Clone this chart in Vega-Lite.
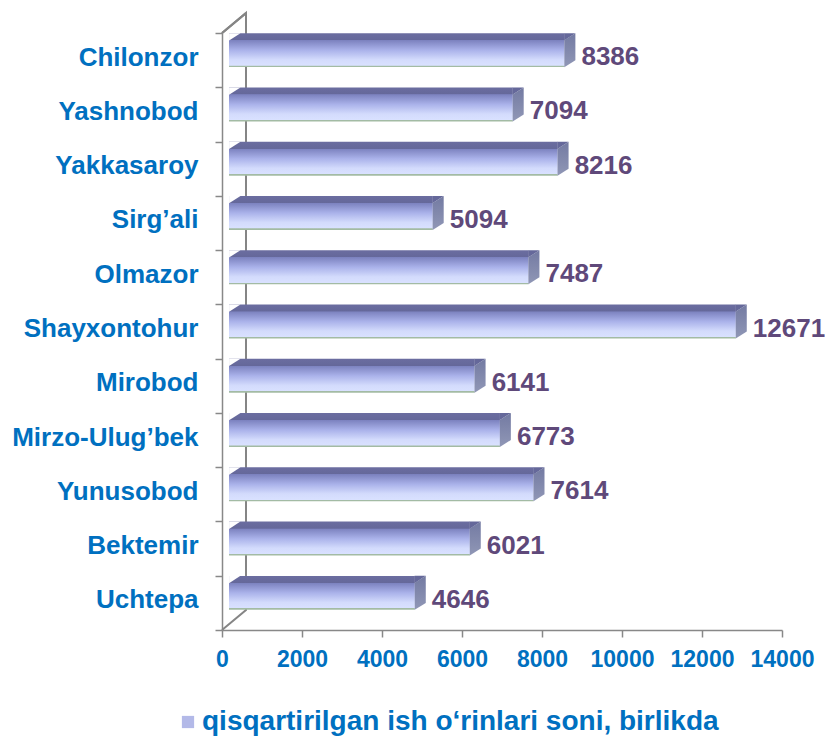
{
  "$schema": "https://vega.github.io/schema/vega-lite/v6.json",
  "autosize": "none",
  "width": 560,
  "height": 597,
  "padding": {"left": 222, "top": 33, "right": 43, "bottom": 108},
  "background": "white",
  "config": {
    "view": {"stroke": null},
    "font": "Liberation Sans",
    "axis": {"labelFontWeight": "bold"},
    "legend": {"labelFontWeight": "bold"}
  },
  "data": {
    "values": [
      {"name": "Chilonzor", "value": 8386, "series": "qisqartirilgan ish o‘rinlari soni, birlikda"},
      {"name": "Yashnobod", "value": 7094, "series": "qisqartirilgan ish o‘rinlari soni, birlikda"},
      {"name": "Yakkasaroy", "value": 8216, "series": "qisqartirilgan ish o‘rinlari soni, birlikda"},
      {"name": "Sirg’ali", "value": 5094, "series": "qisqartirilgan ish o‘rinlari soni, birlikda"},
      {"name": "Olmazor", "value": 7487, "series": "qisqartirilgan ish o‘rinlari soni, birlikda"},
      {"name": "Shayxontohur", "value": 12671, "series": "qisqartirilgan ish o‘rinlari soni, birlikda"},
      {"name": "Mirobod", "value": 6141, "series": "qisqartirilgan ish o‘rinlari soni, birlikda"},
      {"name": "Mirzo-Ulug’bek", "value": 6773, "series": "qisqartirilgan ish o‘rinlari soni, birlikda"},
      {"name": "Yunusobod", "value": 7614, "series": "qisqartirilgan ish o‘rinlari soni, birlikda"},
      {"name": "Bektemir", "value": 6021, "series": "qisqartirilgan ish o‘rinlari soni, birlikda"},
      {"name": "Uchtepa", "value": 4646, "series": "qisqartirilgan ish o‘rinlari soni, birlikda"}
    ]
  },
  "encoding": {
    "y": {
      "field": "name",
      "type": "nominal",
      "sort": null,
      "scale": {
        "domain": ["Chilonzor", "Yashnobod", "Yakkasaroy", "Sirg’ali", "Olmazor", "Shayxontohur", "Mirobod", "Mirzo-Ulug’bek", "Yunusobod", "Bektemir", "Uchtepa"],
        "paddingInner": 0,
        "paddingOuter": 0
      },
      "axis": {
        "title": null,
        "tickBand": "extent",
        "tickSize": 7,
        "tickColor": "#888888",
        "tickWidth": 1.5,
        "domainColor": "#888888",
        "domainWidth": 1.5,
        "labelPadding": 17,
        "labelFontSize": 26,
        "labelFontWeight": "bold",
        "labelColor": "#0070C0",
        "labelLimit": 400,
        "labelOffset": -3
      }
    }
  },
  "layer": [
    {
      "data": {"values": [{"wall": "back"}]},
      "mark": {"type": "point", "shape": "M 0 -1 L 0.0804 -1.067 L 0.0804 0.933 L 0 1", "filled": false, "stroke": "#858585", "strokeWidth": 2, "size": 356409, "opacity": 1},
      "encoding": {
        "x": {"datum": 0, "type": "quantitative"},
        "y": null
      }
    },
    {
      "transform": [{"filter": "datum.name === 'Chilonzor'"}],
      "mark": {"type": "rule", "color": "#858585", "strokeWidth": 2, "xOffset": 0, "x2Offset": 24, "yOffset": -27, "y2Offset": -47},
      "encoding": {
        "x": {"datum": 0, "type": "quantitative"},
        "x2": {"datum": 0},
        "y2": {"field": "name"}
      }
    },
    {
      "mark": {
        "type": "bar",
        "height": {"band": 0.626},
        "yOffset": -10,
        "xOffset": 7,
        "x2Offset": 7,
        "fill": {
          "gradient": "linear", "x1": 0, "y1": 0, "x2": 0, "y2": 1,
          "stops": [
            {"offset": 0, "color": "#6b6da0"},
            {"offset": 0.2, "color": "#65689a"},
            {"offset": 0.21, "color": "#7c82bf"},
            {"offset": 0.5, "color": "#aab2ea"},
            {"offset": 0.78, "color": "#d3dbfc"},
            {"offset": 0.95, "color": "#d9e1ff"},
            {"offset": 0.96, "color": "#a3bba4"},
            {"offset": 1, "color": "#a3bba4"}
          ]
        }
      },
      "encoding": {
        "x": {
          "field": "value",
          "type": "quantitative",
          "scale": {"domain": [0, 14000], "nice": false},
          "axis": {
            "title": null,
            "values": [0, 2000, 4000, 6000, 8000, 10000, 12000, 14000],
            "format": "d",
            "grid": false,
            "tickSize": 7,
            "tickColor": "#888888",
            "tickWidth": 1.5,
            "domainColor": "#888888",
            "domainWidth": 1.5,
            "labelPadding": 11,
            "labelFontSize": 23,
            "labelFontWeight": "bold",
            "labelColor": "#0070C0",
            "labelFlush": false,
            "labelOverlap": false
          }
        }
      }
    },
    {
      "mark": {"type": "point", "shape": "M -0.32 -1 L 0.35 -1 L -0.32 -0.57 Z", "filled": true, "fill": "white", "strokeWidth": 0, "size": 1156, "opacity": 1, "xOffset": 12.5, "yOffset": -10},
      "encoding": {"x": {"datum": 0, "type": "quantitative"}}
    },
    {
      "mark": {"type": "point", "shape": "M -0.34 -1 L 0.32 -1 L -0.34 -0.57 Z", "filled": true, "fill": "#65689a", "strokeWidth": 0, "size": 1156, "opacity": 1, "xOffset": 12.5, "yOffset": -10},
      "encoding": {"x": {"field": "value", "type": "quantitative"}}
    },
    {
      "mark": {
        "type": "point",
        "shape": "M -0.33 -0.59 L 0.32 -1 L 0.32 0.59 L -0.33 1 Z",
        "filled": true,
        "strokeWidth": 0,
        "size": 1156,
        "opacity": 1,
        "xOffset": 12.5,
        "yOffset": -10,
        "fill": {
          "gradient": "linear", "x1": 0, "y1": 0, "x2": 0, "y2": 1,
          "stops": [
            {"offset": 0, "color": "#737aa2"},
            {"offset": 1, "color": "#9097b6"}
          ]
        }
      },
      "encoding": {"x": {"field": "value", "type": "quantitative"}}
    },
    {
      "mark": {"type": "text", "align": "left", "baseline": "middle", "dx": 24, "dy": -3, "fontSize": 26, "fontWeight": "bold", "color": "#5F497A"},
      "encoding": {
        "x": {"field": "value", "type": "quantitative"},
        "text": {"field": "value", "type": "quantitative", "format": "d"}
      }
    },
    {
      "mark": {"type": "bar", "opacity": 0},
      "encoding": {
        "x": {"field": "value", "type": "quantitative"},
        "color": {
          "field": "series",
          "type": "nominal",
          "scale": {"range": ["#b3b9e8"]},
          "legend": {
            "title": null,
            "orient": "none",
            "legendX": -48,
            "legendY": 675,
            "symbolType": "square",
            "symbolSize": 150,
            "symbolStrokeWidth": 0,
            "labelFontSize": 28,
            "labelFontWeight": "bold",
            "labelColor": "#0070C0",
            "labelLimit": 800,
            "labelOffset": 0
          }
        }
      }
    }
  ]
}
